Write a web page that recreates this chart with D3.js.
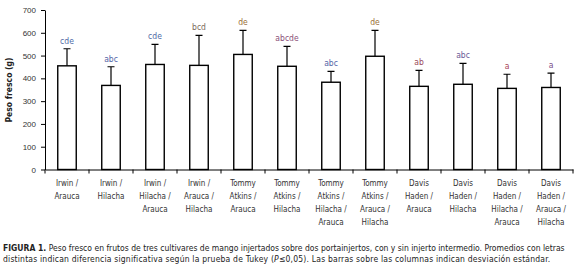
<!DOCTYPE html>
<html>
<head>
  <style>
    body { margin: 0; background: #fff; }
    svg { display: block; font-family: "Liberation Sans Narrow", "Arial Narrow", "DejaVu Sans Condensed", sans-serif; }
    .axis path, .axis line { stroke: #000; stroke-width: 1; }
    .axis text { fill: #333; font-size: 8px; }
    .bar { fill: #fff; stroke: #000; stroke-width: 1.4; }
    .err { stroke: #000; stroke-width: 1.2; fill: none; }
    .sig { font-size: 8.5px; text-anchor: middle; }
    .xlab { fill: #333; font-size: 8px; text-anchor: middle; }
    .caption { font-size: 8.5px; fill: #222; }
  </style>
</head>
<body>
  <svg id="chart" width="576" height="267"></svg>

  <script src="https://d3js.org/d3.v7.min.js"></script>
  <script>
    // categories (graft combinations), each split into label lines
    const categories = [
      ['Irwin /', 'Arauca'],
      ['Irwin /', 'Hilacha'],
      ['Irwin /', 'Hilacha /', 'Arauca'],
      ['Irwin /', 'Arauca /', 'Hilacha'],
      ['Tommy', 'Atkins /', 'Arauca'],
      ['Tommy', 'Atkins /', 'Hilacha'],
      ['Tommy', 'Atkins /', 'Hilacha /', 'Arauca'],
      ['Tommy', 'Atkins /', 'Arauca /', 'Hilacha'],
      ['Davis', 'Haden /', 'Arauca'],
      ['Davis', 'Haden /', 'Hilacha'],
      ['Davis', 'Haden /', 'Hilacha /', 'Arauca'],
      ['Davis', 'Haden /', 'Arauca /', 'Hilacha']
    ];
    // mean fresh weight (g) and standard deviation
    const means = [455, 369, 461, 457, 505, 453, 383, 497, 365, 374, 356, 360];
    const sds   = [75, 82, 88, 132, 106, 87, 48, 114, 70, 92, 62, 63];
    // Tukey letters
    const letters = ['cde', 'abc', 'cde', 'bcd', 'de', 'abcde', 'abc', 'de', 'ab', 'abc', 'a', 'a'];
    const yTicks = [0, 100, 200, 300, 400, 500, 600, 700];

    const letterColors = ['#4f6aa6', '#5566a8', '#4f6aa6', '#7a6a5a', '#9a7038', '#8a4f78',
                          '#5566a8', '#9a7038', '#9a4a5a', '#6a5a98', '#a8445a', '#7a4f88'];

    const svg = d3.select('#chart');
    const keys = categories.map((c, i) => 'c' + i);

    const x = d3.scaleBand().domain(keys).range([45, 573]);
    const y = d3.scaleLinear().domain([0, 700]).range([169.5, 10]);
    const barW = 18.5;

    // bars
    svg.selectAll('.bar')
      .data(means)
      .enter().append('rect')
      .attr('class', 'bar')
      .attr('x', (d, i) => x(keys[i]) + x.bandwidth() / 2 - barW / 2)
      .attr('y', d => y(d))
      .attr('width', barW)
      .attr('height', d => y(0) - y(d));

    // error bars (upper only)
    const cap = 3.5;
    means.forEach((m, i) => {
      const cx = x(keys[i]) + x.bandwidth() / 2;
      svg.append('path')
        .attr('class', 'err')
        .attr('d', `M${cx},${y(m)}V${y(m + sds[i])}M${cx - cap},${y(m + sds[i])}H${cx + cap}`);
      svg.append('text')
        .attr('class', 'sig')
        .attr('x', cx)
        .attr('y', y(m + sds[i]) - 5)
        .attr('fill', letterColors[i])
        .text(letters[i]);
    });

    // y axis
    svg.append('g')
      .attr('class', 'axis')
      .attr('transform', 'translate(45,0)')
      .call(d3.axisLeft(y).tickValues(yTicks).tickSize(4).tickSizeOuter(0).tickPadding(4))
      .call(g => g.selectAll('text').attr('dx', '-1'));

    // x axis
    const xAxis = svg.append('g')
      .attr('class', 'axis')
      .attr('transform', `translate(0,${y(0)})`)
      .call(d3.axisBottom(x).tickSize(0).tickSizeOuter(0).tickFormat(''));

    // ticks at band boundaries
    const edges = keys.map(k => x(k)).concat([x.range()[1]]);
    xAxis.selectAll('.edge')
      .data(edges)
      .enter().append('line')
      .attr('class', 'edge')
      .attr('x1', d => d).attr('x2', d => d)
      .attr('y1', 0).attr('y2', 4);

    // category labels
    categories.forEach((lines, i) => {
      const t = svg.append('text')
        .attr('class', 'xlab')
        .attr('x', x(keys[i]) + x.bandwidth() / 2)
        .attr('y', 186);
      lines.forEach((l, j) => {
        t.append('tspan')
          .attr('x', x(keys[i]) + x.bandwidth() / 2)
          .attr('dy', j === 0 ? 0 : 13)
          .text(l);
      });
    });

    // y axis title
    svg.append('text')
      .attr('transform', 'translate(12,90) rotate(-90)')
      .attr('text-anchor', 'middle')
      .attr('font-size', '8.5px')
      .attr('font-weight', 'bold')
      .attr('fill', '#222')
      .text('Peso fresco (g)');

    // caption
    const c1 = svg.append('text').attr('class', 'caption').attr('x', 3).attr('y', 251);
    c1.append('tspan').attr('font-weight', 'bold').text('FIGURA 1.');
    c1.append('tspan').text(' Peso fresco en frutos de tres cultivares de mango injertados sobre dos portainjertos, con y sin injerto intermedio. Promedios con letras');

    const c2 = svg.append('text').attr('class', 'caption').attr('x', 3).attr('y', 262)
      .attr('letter-spacing', '0.2px');
    c2.append('tspan').text('distintas indican diferencia significativa según la prueba de Tukey (');
    c2.append('tspan').attr('font-style', 'italic').text('P');
    c2.append('tspan').text('≤0,05). Las barras sobre las columnas indican desviación estándar.');
  </script>
</body>
</html>
